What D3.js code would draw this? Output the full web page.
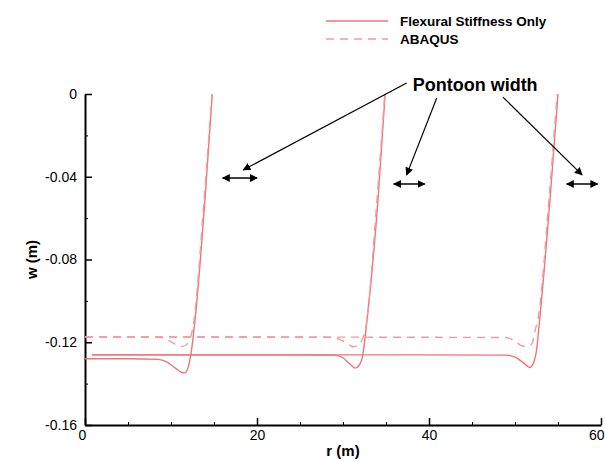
<!DOCTYPE html>
<html>
<head>
<meta charset="utf-8">
<script src="https://cdn.jsdelivr.net/npm/d3@7"></script>
<style>
  html, body { margin: 0; padding: 0; background: #fff; }
  svg { display: block; font-family: "Liberation Sans", Arial, sans-serif; }
  .axis path, .axis line { stroke: #000; }
  .axis text { font-size: 14px; fill: #000; }
</style>
</head>
<body>
<div id="chart"></div>
<script>
// r (m), w (m)
const flexural1 = [[0,-0.1280],[5,-0.1280],[8.5,-0.1283],[9.5,-0.1295],[10.5,-0.1325],[11.2,-0.1345],[11.6,-0.1348],[12.0,-0.1320],[12.3,-0.1262],[12.8,-0.1090],[13.95,-0.0510],[14.8,0]];
const flexural2 = [[0.8,-0.1261],[20,-0.1261],[29.0,-0.1262],[30.0,-0.1275],[30.8,-0.1305],[31.4,-0.1325],[31.9,-0.1310],[32.3,-0.1262],[32.8,-0.1090],[34.07,-0.0510],[34.9,0]];
const flexural3 = [[0.8,-0.1261],[30,-0.1261],[49.0,-0.1262],[50.0,-0.1272],[51.0,-0.1300],[51.7,-0.1322],[52.15,-0.1300],[52.5,-0.1240],[52.8,-0.1120],[54.07,-0.0510],[55.0,0]];
const abaqus1 = [[0,-0.1174],[8.5,-0.1176],[9.5,-0.1185],[10.5,-0.1210],[11.3,-0.1220],[11.8,-0.1212],[12.1,-0.1190],[12.5,-0.1140],[13.85,-0.0510],[14.75,0]];
const abaqus2 = [[0,-0.1174],[28.5,-0.1176],[29.5,-0.1185],[30.3,-0.1200],[31.2,-0.1222],[31.7,-0.1215],[32.2,-0.1189],[32.6,-0.1140],[33.95,-0.0510],[34.85,0]];
const abaqus3 = [[0,-0.1174],[49.0,-0.1177],[49.8,-0.1190],[50.9,-0.1218],[51.6,-0.1220],[52.0,-0.1205],[52.3,-0.1150],[52.7,-0.1080],[53.95,-0.0510],[54.9,0]];

const xTicks = [0, 20, 40, 60];
const xMinor = [5, 10, 15, 25, 30, 35, 45, 50, 55];
const yTicks = [0, -0.04, -0.08, -0.12, -0.16];
const yMinor = [-0.02, -0.06, -0.10, -0.14];

const legendLabels = ['Flexural Stiffness Only', 'ABAQUS'];
const annotationText = 'Pontoon width';
// double arrows showing pontoon width: [r0, r1, w]
const pontoonArrows = [[16.0, 20.0, -0.0406], [35.9, 39.5, -0.0435], [56.0, 59.6, -0.0435]];
// pointer lines from the label: [rStart, wStart, rEnd, wEnd]
const pointers = [[37.4, 0.0053, 18.4, -0.0367], [40.9, -0.0019, 37.4, -0.0391], [48.6, -0.0015, 57.8, -0.0391]];

const width = 605, height = 461;
const margin = {top: 94, right: 4, bottom: 36, left: 85};
const lineColor = '#ef7478';
const dashColor = '#f39aa0';

const svg = d3.select('#chart').append('svg')
  .attr('width', width)
  .attr('height', height);

const x = d3.scaleLinear().domain([0, 60]).range([margin.left, width - margin.right]);
const y = d3.scaleLinear().domain([-0.16, 0]).range([height - margin.bottom, margin.top]);

const defs = svg.append('defs');
defs.append('marker')
  .attr('id', 'head')
  .attr('viewBox', '0 0 10 10')
  .attr('refX', 9).attr('refY', 5)
  .attr('markerWidth', 8).attr('markerHeight', 8)
  .attr('markerUnits', 'userSpaceOnUse')
  .attr('orient', 'auto-start-reverse')
  .append('path')
  .attr('d', 'M0,0 L10,5 L0,10 Z')
  .attr('fill', '#000');

// minor ticks
svg.append('g').attr('class', 'axis')
  .attr('transform', `translate(0,${y(-0.16)})`)
  .call(d3.axisBottom(x).tickValues(xMinor).tickSize(-3).tickFormat(''))
  .call(g => g.select('.domain').remove());
svg.append('g').attr('class', 'axis')
  .attr('transform', `translate(${x(0)},0)`)
  .call(d3.axisLeft(y).tickValues(yMinor).tickSize(-3).tickFormat(''))
  .call(g => g.select('.domain').remove());

// major axes
const xAxis = svg.append('g').attr('class', 'axis')
  .attr('transform', `translate(0,${y(-0.16)})`)
  .call(d3.axisBottom(x).tickValues(xTicks).tickSize(-7).tickSizeOuter(0).tickPadding(5).tickFormat(d3.format('d')));
xAxis.select('.domain').attr('stroke-width', 2);
xAxis.selectAll('.tick line').attr('stroke-width', 1.5);
// keep the last label inside the window
xAxis.selectAll('.tick text').filter(d => d === 60).attr('text-anchor', 'end').attr('dx', 3);
xAxis.selectAll('.tick text').filter(d => d === 0).attr('dx', -3);

const yAxis = svg.append('g').attr('class', 'axis')
  .attr('transform', `translate(${x(0)},0)`)
  .call(d3.axisLeft(y).tickValues(yTicks).tickSize(-7).tickSizeOuter(0).tickPadding(8)
    .tickFormat(d => d === 0 ? '0' : d.toFixed(2)));
yAxis.select('.domain').attr('stroke-width', 2);
yAxis.selectAll('.tick line').attr('stroke-width', 1.5);

// axis titles
svg.append('text')
  .attr('x', x(30)).attr('y', 456)
  .attr('text-anchor', 'middle')
  .attr('font-size', 15).attr('font-weight', 'bold')
  .text('r (m)');
svg.append('text')
  .attr('transform', `translate(37,${y(-0.08)}) rotate(-90)`)
  .attr('text-anchor', 'middle')
  .attr('font-size', 15).attr('font-weight', 'bold')
  .text('w (m)');

// curves
const line = d3.line().x(d => x(d[0])).y(d => y(d[1])).curve(d3.curveMonotoneX);
const curves = svg.append('g').attr('fill', 'none');
[flexural1, flexural2, flexural3].forEach(s => {
  curves.append('path').attr('d', line(s))
    .attr('stroke', lineColor).attr('stroke-width', 1.4);
});
[abaqus1, abaqus2, abaqus3].forEach(s => {
  curves.append('path').attr('d', line(s))
    .attr('stroke', dashColor).attr('stroke-width', 1.4)
    .attr('stroke-dasharray', '8,6');
});

// annotation
svg.append('text')
  .attr('x', x(38.1)).attr('y', y(0.0015))
  .attr('font-size', 18).attr('font-weight', 'bold')
  .text(annotationText);

svg.append('g').selectAll('line').data(pointers).enter().append('line')
  .attr('x1', d => x(d[0])).attr('y1', d => y(d[1]))
  .attr('x2', d => x(d[2])).attr('y2', d => y(d[3]))
  .attr('stroke', '#000').attr('stroke-width', 1.2)
  .attr('marker-end', 'url(#head)');

svg.append('g').selectAll('line').data(pontoonArrows).enter().append('line')
  .attr('x1', d => x(d[0])).attr('y1', d => y(d[2]))
  .attr('x2', d => x(d[1])).attr('y2', d => y(d[2]))
  .attr('stroke', '#000').attr('stroke-width', 1.5)
  .attr('marker-start', 'url(#head)')
  .attr('marker-end', 'url(#head)');

// legend
const legend = svg.append('g');
legendLabels.forEach((label, i) => {
  const ly = 21 + i * 18;
  legend.append('line')
    .attr('x1', 326).attr('x2', 388).attr('y1', ly).attr('y2', ly)
    .attr('stroke', i === 0 ? lineColor : dashColor).attr('stroke-width', 1.4)
    .attr('stroke-dasharray', i === 0 ? null : '8,6');
  legend.append('text')
    .attr('x', 400).attr('y', ly).attr('dy', '0.35em')
    .attr('font-size', 13.5).attr('font-weight', 'bold')
    .text(label);
});
</script>
</body>
</html>
